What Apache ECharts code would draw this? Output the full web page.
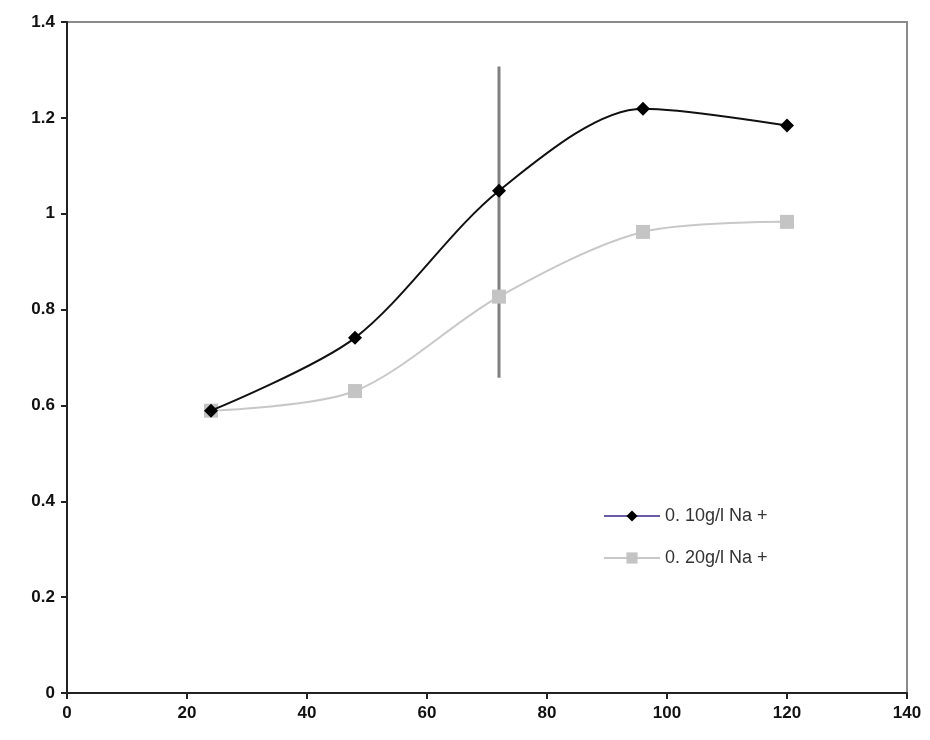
<!DOCTYPE html>
<html>
<head>
<meta charset="utf-8">
<script src="https://cdn.jsdelivr.net/npm/echarts@6/dist/echarts.min.js"></script>
<style>
  html, body { margin: 0; padding: 0; background: #fff; }
  #chart { width: 930px; height: 740px; }
</style>
</head>
<body>
<div id="chart"></div>
<script>
// 数据
const hours = [24, 48, 72, 96, 120]
const na010 = [0.589, 0.741, 1.048, 1.219, 1.184]
const na020 = [0.589, 0.630, 0.827, 0.962, 0.983]
const seriesNames = ['0. 10g/l Na +', '0. 20g/l Na +']

// 误差线 (72h)
const errX = [72]
const errLow = [0.658]
const errHigh = [1.307]

const labelFont = {
  fontFamily: '"Liberation Sans Narrow", "Arial Narrow", "Liberation Sans", sans-serif',
  fontWeight: 'bold',
  fontSize: 17,
  color: '#111'
}

const myChart = echarts.init(document.getElementById('chart'))

myChart.setOption({
  animation: false,
  backgroundColor: '#fff',
  grid: {
    left: 67, top: 22, right: 23, bottom: 47,
    show: true,
    borderColor: '#8a8a8a',
    borderWidth: 2,
    containLabel: false
  },
  legend: {
    orient: 'vertical',
    left: 598,
    top: 502,
    itemWidth: 56,
    itemHeight: 14,
    itemGap: 24,
    textStyle: { fontFamily: '"Liberation Sans", Arial, sans-serif', fontSize: 18, color: '#333' },
    data: [
      { name: seriesNames[0], lineStyle: { color: '#6a5aa8', width: 2 }, itemStyle: { color: '#000' } },
      { name: seriesNames[1], lineStyle: { color: '#c8c8c8', width: 2 }, itemStyle: { color: '#c4c4c4' } }
    ]
  },
  xAxis: {
    type: 'value',
    min: 0, max: 140, interval: 20,
    axisLine: { show: true, onZero: false, lineStyle: { color: '#222', width: 2 } },
    axisTick: { show: true, length: 6, lineStyle: { color: '#222', width: 2 } },
    axisLabel: Object.assign({ margin: 12 }, labelFont),
    splitLine: { show: false }
  },
  yAxis: {
    type: 'value',
    min: 0, max: 1.4, interval: 0.2,
    axisLine: { show: true, lineStyle: { color: '#222', width: 2 } },
    axisTick: { show: true, length: 6, lineStyle: { color: '#222', width: 2 } },
    axisLabel: Object.assign({ margin: 12 }, labelFont),
    splitLine: { show: false }
  },
  series: [
    {
      type: 'custom',
      name: 'err',
      z: 1,
      silent: true,
      data: errX.map((x, i) => [x, errLow[i], errHigh[i]]),
      renderItem: function (params, api) {
        const p1 = api.coord([api.value(0), api.value(1)])
        const p2 = api.coord([api.value(0), api.value(2)])
        return {
          type: 'line',
          shape: { x1: p1[0], y1: p1[1], x2: p2[0], y2: p2[1] },
          style: { stroke: '#808080', lineWidth: 3 }
        }
      }
    },
    {
      name: seriesNames[1],
      type: 'line',
      z: 2,
      smooth: 0.3,
      data: hours.map((h, i) => [h, na020[i]]),
      symbol: 'rect',
      symbolSize: 14,
      lineStyle: { color: '#c8c8c8', width: 2 },
      itemStyle: { color: '#c4c4c4' }
    },
    {
      name: seriesNames[0],
      type: 'line',
      z: 3,
      smooth: 0.3,
      data: hours.map((h, i) => [h, na010[i]]),
      symbol: 'diamond',
      symbolSize: 14,
      lineStyle: { color: '#111', width: 2 },
      itemStyle: { color: '#000' }
    }
  ]
})
</script>
</body>
</html>
